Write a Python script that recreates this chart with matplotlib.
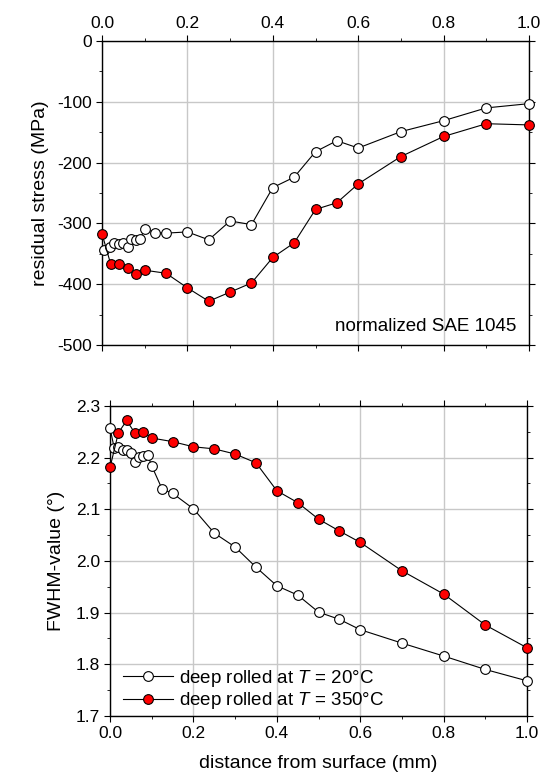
import matplotlib
matplotlib.use("Agg")
import matplotlib.pyplot as plt
from matplotlib.ticker import MultipleLocator

plt.rcParams["font.family"] = ["Liberation Sans", "DejaVu Sans"]
plt.rcParams["mathtext.fontset"] = "custom"
plt.rcParams["mathtext.it"] = "Liberation Sans:italic"
plt.rcParams["mathtext.rm"] = "Liberation Sans"
plt.rcParams["axes.unicode_minus"] = False

# residual stress, deep rolled at 20 C (open circles)
rs_cold_x = [0.005, 0.019, 0.029, 0.039, 0.049, 0.060, 0.069, 0.079, 0.089, 0.100,
             0.125, 0.15, 0.20, 0.25, 0.30, 0.35, 0.40, 0.45, 0.50, 0.55, 0.60,
             0.70, 0.80, 0.90, 1.00]
rs_cold_y = [-343, -339, -333, -334, -333, -338, -326, -327, -326, -309,
             -315, -316, -314, -327, -296, -302, -241, -224, -182, -164, -176,
             -149, -131, -110, -103]

# residual stress, deep rolled at 350 C (red circles)
rs_hot_x = [0.0, 0.02, 0.04, 0.06, 0.08, 0.10, 0.15, 0.20, 0.25, 0.30, 0.35,
            0.40, 0.45, 0.50, 0.55, 0.60, 0.70, 0.80, 0.90, 1.00]
rs_hot_y = [-317, -366, -366, -374, -384, -377, -382, -406, -428, -413, -398,
            -356, -332, -277, -266, -235, -190, -157, -136, -138]

# FWHM, deep rolled at 20 C
fw_cold_x = [0.0, 0.01, 0.02, 0.03, 0.04, 0.05, 0.06, 0.07, 0.08, 0.09, 0.10,
             0.125, 0.15, 0.20, 0.25, 0.30, 0.35, 0.40, 0.45, 0.50, 0.55, 0.60,
             0.70, 0.80, 0.90, 1.00]
fw_cold_y = [2.257, 2.219, 2.221, 2.215, 2.214, 2.209, 2.191, 2.202, 2.204, 2.206,
             2.184, 2.139, 2.131, 2.101, 2.054, 2.027, 1.988, 1.952, 1.934, 1.901,
             1.887, 1.867, 1.841, 1.816, 1.790, 1.768]

# FWHM, deep rolled at 350 C
fw_hot_x = [0.0, 0.02, 0.04, 0.06, 0.08, 0.10, 0.15, 0.20, 0.25, 0.30, 0.35,
            0.40, 0.45, 0.50, 0.55, 0.60, 0.70, 0.80, 0.90, 1.00]
fw_hot_y = [2.181, 2.248, 2.272, 2.247, 2.250, 2.238, 2.231, 2.221, 2.217, 2.207,
            2.190, 2.136, 2.113, 2.081, 2.058, 2.036, 1.981, 1.936, 1.876, 1.832]

LABEL_COLD = "deep rolled at $T$ = 20°C"
LABEL_HOT = "deep rolled at $T$ = 350°C"

GRID = "#c8c8c8"
TICK_FS = 12.5
LABEL_FS = 14
TEXT_FS = 13.5


def style_axes(ax):
    for sp in ax.spines.values():
        sp.set_linewidth(1.0)
        sp.set_color("black")
    ax.grid(True, which="major", color=GRID, linewidth=1.0)
    ax.set_axisbelow(True)
    ax.tick_params(which="both", direction="out", labelsize=TICK_FS,
                   top=True, right=True, bottom=True, left=True)
    ax.tick_params(which="major", length=4, pad=3)
    ax.tick_params(which="minor", length=2.5)


def draw(ax, x, y, face, label):
    ax.plot(x, y, color="black", linewidth=0.8, marker="o", markersize=7,
            markerfacecolor=face, markeredgecolor="black", markeredgewidth=0.8,
            label=label, clip_on=False, zorder=3)


fig = plt.figure(figsize=(5.49, 7.80), dpi=100)

ax1 = fig.add_axes([0.1858, 0.5577, 0.7778, 0.3897])
style_axes(ax1)
draw(ax1, rs_cold_x, rs_cold_y, "white", LABEL_COLD)
draw(ax1, rs_hot_x, rs_hot_y, "red", LABEL_HOT)
ax1.set_xlim(0, 1)
ax1.set_ylim(-500, 0)
ax1.xaxis.set_major_locator(MultipleLocator(0.2))
ax1.xaxis.set_minor_locator(MultipleLocator(0.1))
ax1.yaxis.set_major_locator(MultipleLocator(100))
ax1.yaxis.set_minor_locator(MultipleLocator(50))
ax1.xaxis.set_major_formatter(lambda v, p: f"{v:.1f}")
ax1.tick_params(labeltop=True, labelbottom=False)
ax1.set_ylabel("residual stress (MPa)", fontsize=LABEL_FS, labelpad=6)
ax1.text(0.97, 0.06, "normalized SAE 1045", transform=ax1.transAxes,
         ha="right", va="center", fontsize=TEXT_FS)

ax2 = fig.add_axes([0.2004, 0.0821, 0.7596, 0.3974])
style_axes(ax2)
draw(ax2, fw_cold_x, fw_cold_y, "white", LABEL_COLD)
draw(ax2, fw_hot_x, fw_hot_y, "red", LABEL_HOT)
ax2.set_xlim(0, 1)
ax2.set_ylim(1.7, 2.3)
ax2.xaxis.set_major_locator(MultipleLocator(0.2))
ax2.xaxis.set_minor_locator(MultipleLocator(0.1))
ax2.yaxis.set_major_locator(MultipleLocator(0.1))
ax2.yaxis.set_minor_locator(MultipleLocator(0.05))
ax2.xaxis.set_major_formatter(lambda v, p: f"{v:.1f}")
ax2.yaxis.set_major_formatter(lambda v, p: f"{v:.1f}")
ax2.set_xlabel("distance from surface (mm)", fontsize=LABEL_FS, labelpad=10)
ax2.set_ylabel("FWHM-value (°)", fontsize=LABEL_FS, labelpad=8)
ax2.legend(loc="lower left", bbox_to_anchor=(-0.01, -0.04), frameon=False,
           fontsize=TEXT_FS, handlelength=2.7, handletextpad=0.3, borderpad=0.4,
           labelspacing=0.1)

fig.savefig("out.png", dpi=100)
